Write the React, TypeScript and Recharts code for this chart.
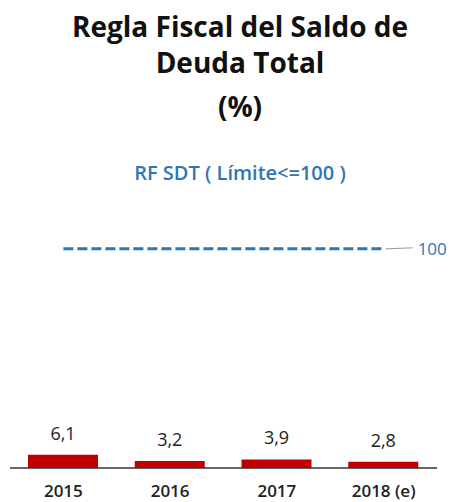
import { ComposedChart, Bar, Line, XAxis, YAxis, LabelList } from 'recharts'

const years = ['2015', '2016', '2017', '2018 (e)']
const saldoDeuda = [6.1, 3.2, 3.9, 2.8]
const limite = [100, 100, 100, 100]

const chartData = years.map((year, i) => ({
  year,
  saldo: saldoDeuda[i],
  limite: limite[i],
}))

const FONT = '"Open Sans", "Liberation Sans", sans-serif'
const BLUE = '#2E75B6'

const fmt = (v: number) => v.toFixed(1).replace('.', ',')

function YearTick(props: any) {
  const { x, y, payload } = props
  return (
    <text x={x} y={y + 21} textAnchor="middle" fontFamily={FONT} fontSize={17} fontWeight={600} fill="#222">
      {payload.value}
    </text>
  )
}

function LimitLabel(props: any) {
  const { x, y, index, value } = props
  if (index !== years.length - 1) return null
  return (
    <g>
      <line x1={x + 2} y1={y} x2={x + 29} y2={y - 1} stroke="#999" strokeWidth={1} />
      <text x={x + 34} y={y + 6} fontFamily={FONT} fontSize={17} fill={BLUE}>
        {value}
      </text>
    </g>
  )
}

const titleLine = (top: number): React.CSSProperties => ({
  position: 'absolute',
  left: 0,
  top,
  width: 480,
  textAlign: 'center',
  fontSize: 28,
  fontWeight: 700,
  color: '#111',
  lineHeight: '36px',
})

export default function App() {
  return (
    <div style={{ position: 'absolute', left: 0, top: 0, width: 451, height: 502, background: '#fff', fontFamily: FONT, overflow: 'hidden' }}>
      <div style={titleLine(8)}>Regla Fiscal del Saldo de</div>
      <div style={titleLine(44)}>Deuda Total</div>
      <div style={titleLine(88)}>(%)</div>
      <div style={{ position: 'absolute', left: 0, top: 159, width: 480, textAlign: 'center', fontSize: 20, fontWeight: 600, color: BLUE, lineHeight: '28px' }}>
        RF SDT ( Límite&lt;=100 )
      </div>
      <ComposedChart
        width={451}
        height={502}
        data={chartData}
        margin={{ top: 205, right: 14, left: 10, bottom: 0 }}
        style={{ position: 'absolute', left: 0, top: 0 }}
      >
        <XAxis
          dataKey="year"
          height={34}
          tickLine={false}
          axisLine={{ stroke: '#333', strokeWidth: 1.5 }}
          tick={<YearTick />}
          interval={0}
        />
        <YAxis hide domain={[0, 120]} />
        <Bar dataKey="saldo" fill="#C00000" barSize={70} isAnimationActive={false}>
          <LabelList
            dataKey="saldo"
            position="top"
            offset={15}
            formatter={(v: any) => fmt(Number(v))}
            style={{ fontFamily: FONT, fontSize: 18, fontWeight: 500, fill: '#222' }}
          />
        </Bar>
        <Line
          dataKey="limite"
          stroke={BLUE}
          strokeWidth={3}
          strokeDasharray="10 4"
          dot={false}
          activeDot={false}
          isAnimationActive={false}
        >
          <LabelList dataKey="limite" content={<LimitLabel />} />
        </Line>
      </ComposedChart>
    </div>
  )
}
